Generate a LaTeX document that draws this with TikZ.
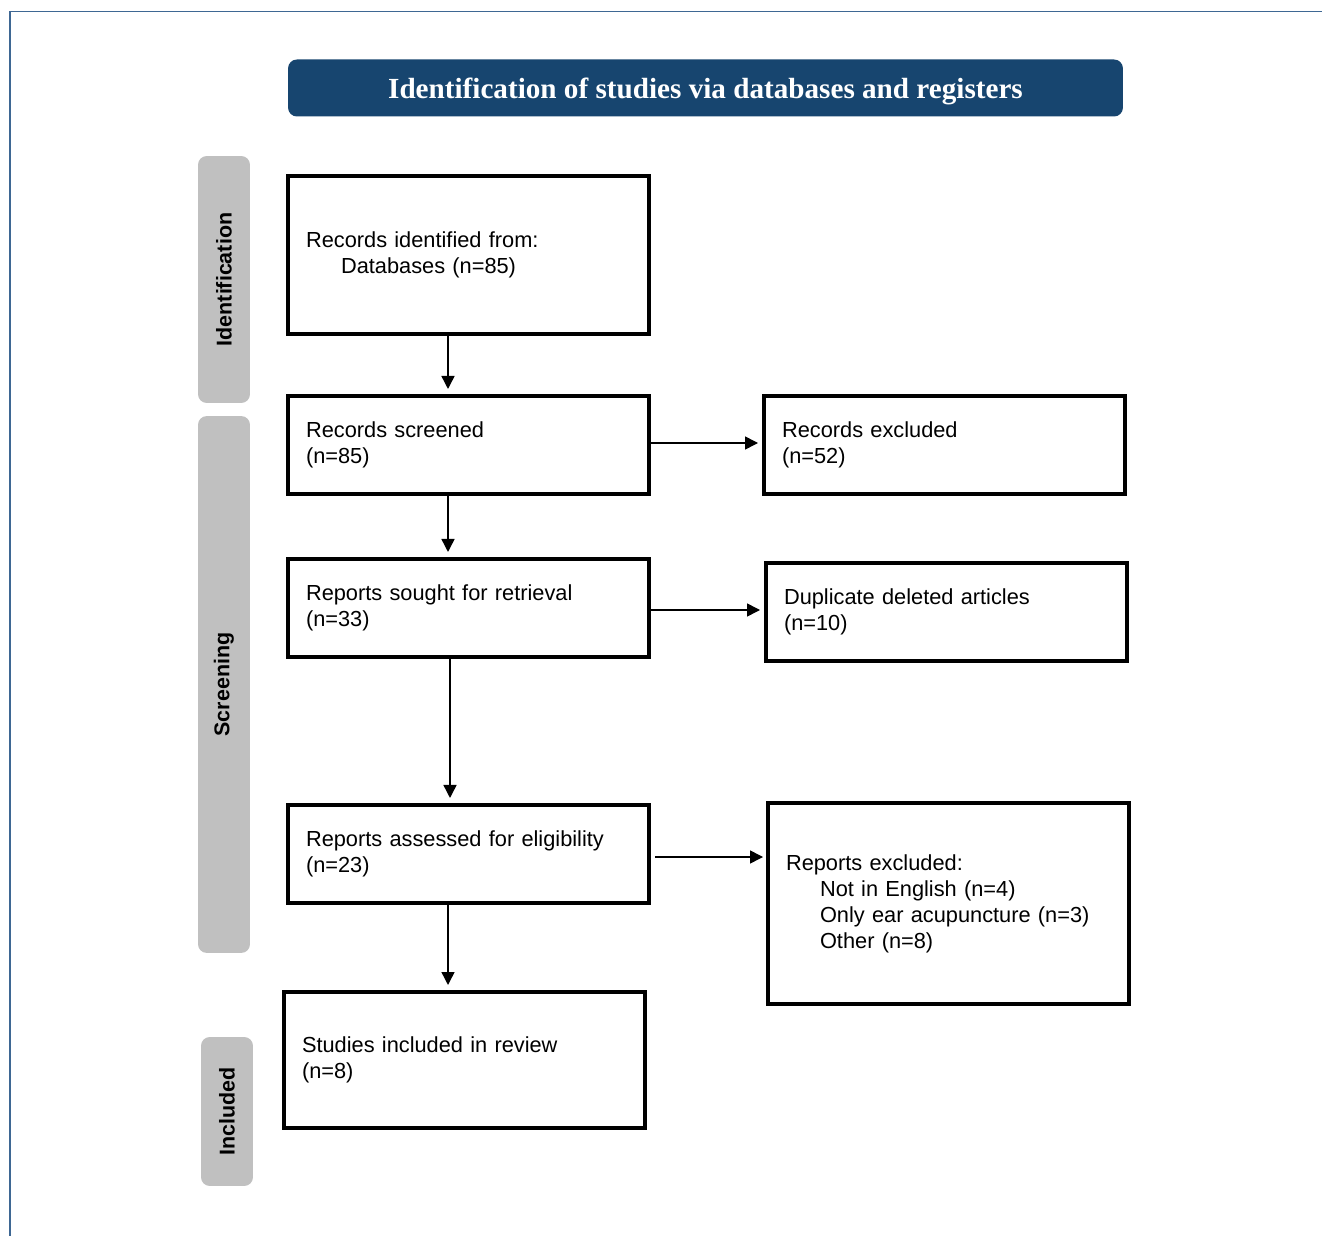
\documentclass[tikz,border=0pt]{standalone}
\usepackage{fontspec}
\setmainfont{Liberation Sans}
\newfontfamily\titlefont{Liberation Serif}
\usepackage{xcolor}
\usepackage{tikz}
\usetikzlibrary{calc,positioning,arrows.meta}
\definecolor{prismaBlue}{HTML}{17456F}
\definecolor{frameBlue}{HTML}{3E6793}
\definecolor{tabGray}{HTML}{C0C0C0}

\begin{document}
\begin{tikzpicture}[
  x=0.02cm, y=-0.02cm,
  every node/.style={font=\fontsize{12.4}{14.8}\selectfont},
  flowbox/.style={draw=black, line width=2.3pt, minimum width=7.22cm,
    text width=6.5cm, inner xsep=0.36cm, align=left},
  phasetab/.style={fill=tabGray, rounded corners=5pt, minimum height=1.04cm,
    rotate=90, font=\fontsize{12.2}{14}\selectfont\bfseries},
  titlebar/.style={fill=prismaBlue, rounded corners=5pt, minimum width=16.7cm,
    minimum height=1.14cm, text=white, text depth=0pt,
    font=\titlefont\fontsize{16.6}{19}\selectfont\bfseries},
  arrow/.style={-{Triangle[length=0.26cm, width=0.26cm]}, line width=0.85pt},
]
\useasboundingbox (0,0) rectangle (1322,1236);

% Frame
\draw[frameBlue, line width=0.8pt] (1322,11.5) -- (10,11.5) -- (10,1236);

% Title
\node[titlebar] (title) at (705.5,88)
  {Identification of studies via databases and registers};

% Phase tabs
\node[phasetab, minimum width=4.94cm] (tabid) at (224,279.5) {Identification};
\node[phasetab, minimum width=10.74cm] (tabscr) at (224,684.5) {Screening};
\node[phasetab, minimum width=2.98cm] (tabinc) at (227,1111.5) {Included};

% Boxes
\node[flowbox, minimum height=3.16cm] (ident) at (468.5,255) {
  Records identified from:\\
  \hspace*{0.7cm}Databases (n=85)
};
\node[flowbox, minimum height=1.96cm] (screen) at (468.5,445) {
  Records screened\\
  (n=85)
};
\node[flowbox, minimum height=1.96cm] (excl) at (944.5,445) {
  Records excluded\\
  (n=52)
};
\node[flowbox, minimum height=1.96cm] (sought) at (468.5,608) {
  Reports sought for retrieval\\
  (n=33)
};
\node[flowbox, minimum height=1.96cm] (dup) at (946.5,612) {
  Duplicate deleted articles\\
  (n=10)
};
\node[flowbox, minimum height=1.96cm] (assess) at (468.5,854) {
  Reports assessed for eligibility\\
  (n=23)
};
\node[flowbox, minimum height=4.02cm] (rexcl) at (948.5,903.5) {
  Reports excluded:\\
  \hspace*{0.68cm}Not in English (n=4)\\
  \hspace*{0.68cm}Only ear acupuncture (n=3)\\
  \hspace*{0.68cm}Other (n=8)
};
\node[flowbox, minimum height=2.72cm] (incl) at (464.5,1060) {
  Studies included in review\\
  (n=8)
};

% Arrows
\draw[arrow, shorten >=0.1cm] ([xshift=-0.41cm]ident.south)
  -- ([xshift=-0.41cm]screen.north);
\draw[arrow, shorten >=0.08cm] ([yshift=0.04cm]screen.east)
  -- ([yshift=0.04cm]screen.east -| excl.west);
\draw[arrow, shorten >=0.1cm] ([xshift=-0.41cm]screen.south)
  -- ([xshift=-0.41cm]sought.north);
\draw[arrow, shorten >=0.08cm] ([yshift=-0.04cm]sought.east)
  -- ([yshift=-0.04cm]sought.east -| dup.west);
\draw[arrow, shorten >=0.1cm] ([xshift=-0.37cm]sought.south)
  -- ([xshift=-0.37cm]assess.north);
\draw[arrow, shorten <=0.08cm, shorten >=0.06cm] ([yshift=-0.06cm]assess.east)
  -- ([yshift=-0.06cm]assess.east -| rexcl.west);
\draw[arrow, shorten >=0.1cm] ([xshift=-0.41cm]assess.south)
  -- ([xshift=-0.41cm]assess.south |- incl.north);

\end{tikzpicture}
\end{document}
